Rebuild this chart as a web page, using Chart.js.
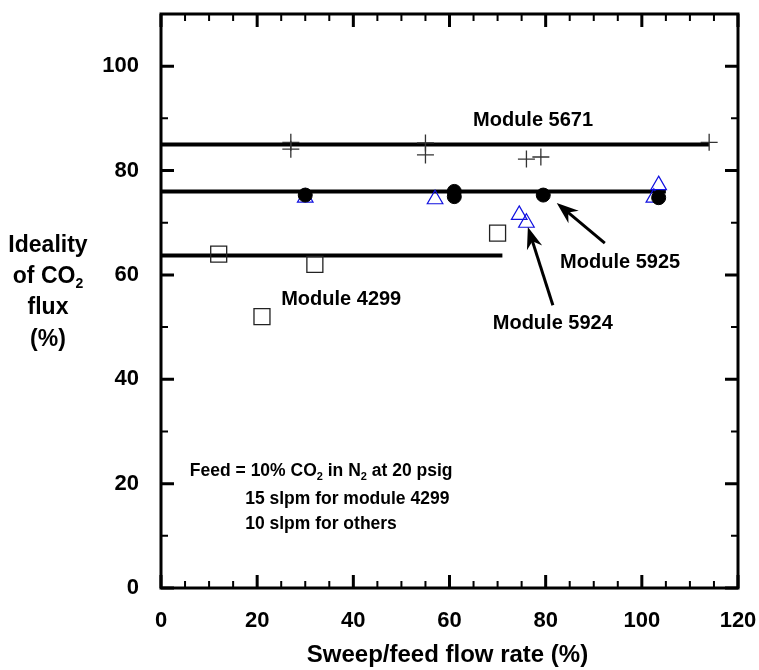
<!DOCTYPE html>
<html>
<head>
<meta charset="utf-8">
<script src="https://cdn.jsdelivr.net/npm/chart.js@4.4.1/dist/chart.umd.min.js"></script>
<style>
    html, body { margin: 0; padding: 0; background: #fff; }
    #wrap { width: 759px; height: 670px; }
</style>
</head>
<body>
<div id="wrap"><canvas id="idealityChart" width="759" height="670"></canvas></div>
<script>
// Sweep/feed flow rate (%) vs ideality of CO2 flux (%)
const m5671X = [27, 27, 55, 55, 76, 79, 114];
const m5671Y = [85.4, 84.1, 85.3, 83.0, 82.2, 82.6, 85.4];
const m5925X = [30, 61, 61, 79.5, 103.5];
const m5925Y = [75.3, 76.0, 75.0, 75.3, 74.8];
const m5924X = [30, 57, 74.5, 76, 102.5, 103.5];
const m5924Y = [74.8, 74.5, 71.5, 70.0, 74.8, 77.2];
const m4299X = [12, 21, 32, 70];
const m4299Y = [64, 52, 62, 68];

// horizontal average lines: 5671, 5925, 4299
const fitLevels = [85, 76, 63.7];
const fitEnds = [114, 105, 71];

const xMax = 120;
const yMax = 110;

const FONT = '"Liberation Sans", Arial, sans-serif';

function pts(xs, ys) {
    return xs.map((x, i) => ({ x: x, y: ys[i] }));
}

function fitLine(i) {
    return {
        type: 'line',
        data: [{ x: 0, y: fitLevels[i] }, { x: fitEnds[i], y: fitLevels[i] }],
        borderColor: '#000',
        borderWidth: 4,
        pointRadius: 0,
        order: 10
    };
}

// draws a string with subscript pieces, left aligned at x, middle at y
function drawRich(ctx, parts, x, y, size) {
    let cx = x;
    parts.forEach(p => {
        if (p.sub) {
            ctx.font = 'bold ' + Math.round(size * 0.62) + 'px ' + FONT;
            ctx.fillText(p.t, cx, y + size * 0.3);
        } else {
            ctx.font = 'bold ' + size + 'px ' + FONT;
            ctx.fillText(p.t, cx, y);
        }
        cx += ctx.measureText(p.t).width;
    });
    return cx - x;
}

function richWidth(ctx, parts, size) {
    let w = 0;
    parts.forEach(p => {
        ctx.font = 'bold ' + (p.sub ? Math.round(size * 0.62) : size) + 'px ' + FONT;
        w += ctx.measureText(p.t).width;
    });
    return w;
}

function arrow(ctx, x1, y1, x2, y2) {
    const ang = Math.atan2(y2 - y1, x2 - x1);
    const c = Math.cos(ang), s = Math.sin(ang);
    const head = 22;
    const bx = x2 - head * c;
    const by = y2 - head * s;
    ctx.lineWidth = 3;
    ctx.beginPath();
    ctx.moveTo(x1, y1);
    ctx.lineTo(x2 - 12 * c, y2 - 12 * s);
    ctx.stroke();
    ctx.beginPath();
    ctx.moveTo(x2, y2);
    ctx.lineTo(bx + 8 * s, by - 8 * c);
    ctx.lineTo(x2 - 15 * c, y2 - 15 * s);
    ctx.lineTo(bx - 8 * s, by + 8 * c);
    ctx.closePath();
    ctx.fill();
}

const framePlugin = {
    id: 'frameAndNotes',
    afterDatasetsDraw(chart) {
        const ctx = chart.ctx;
        const a = chart.chartArea;
        const xs = chart.scales.x;
        const ys = chart.scales.y;
        ctx.save();
        ctx.strokeStyle = '#000';
        ctx.fillStyle = '#000';

        // inward ticks on all four sides
        xs.ticks.forEach(t => {
            const px = xs.getPixelForValue(t.value);
            const major = t.value % 20 === 0;
            const len = major ? 13 : 7;
            ctx.lineWidth = major ? 3 : 2;
            ctx.beginPath();
            ctx.moveTo(px, a.bottom); ctx.lineTo(px, a.bottom - len);
            ctx.moveTo(px, a.top); ctx.lineTo(px, a.top + len);
            ctx.stroke();
        });
        ys.ticks.forEach(t => {
            const py = ys.getPixelForValue(t.value);
            const major = t.value % 20 === 0;
            const len = major ? 13 : 7;
            ctx.lineWidth = major ? 3 : 2;
            ctx.beginPath();
            ctx.moveTo(a.left, py); ctx.lineTo(a.left + len, py);
            ctx.moveTo(a.right, py); ctx.lineTo(a.right - len, py);
            ctx.stroke();
        });
        ctx.lineWidth = 3;
        ctx.strokeRect(a.left, a.top, a.right - a.left, a.bottom - a.top);

        // module labels
        ctx.textBaseline = 'middle';
        ctx.textAlign = 'left';
        ctx.font = 'bold 20px ' + FONT;
        const notes = [
            ['Module 5671', 64.9, 89.5],
            ['Module 5925', 83, 62.3],
            ['Module 5924', 69, 50.6],
            ['Module 4299', 25, 55.2]
        ];
        notes.forEach(n => {
            ctx.fillText(n[0], xs.getPixelForValue(n[1]), ys.getPixelForValue(n[2]));
        });

        // arrows to the 5925 and 5924 points
        arrow(ctx, xs.getPixelForValue(92.3), ys.getPixelForValue(66.1),
            xs.getPixelForValue(82.3), ys.getPixelForValue(73.8));
        arrow(ctx, xs.getPixelForValue(81.5), ys.getPixelForValue(54.2),
            xs.getPixelForValue(76.3), ys.getPixelForValue(69.2));

        // feed conditions
        const fx = xs.getPixelForValue(6.0);
        drawRich(ctx, [{ t: 'Feed = 10% CO' }, { t: '2', sub: true }, { t: ' in N' },
            { t: '2', sub: true }, { t: ' at 20 psig' }], fx, ys.getPixelForValue(22.3), 17.5);
        const fx2 = xs.getPixelForValue(17.5);
        drawRich(ctx, [{ t: '15 slpm for module 4299' }], fx2, ys.getPixelForValue(17.1), 17.5);
        drawRich(ctx, [{ t: '10 slpm for others' }], fx2, ys.getPixelForValue(12.3), 17.5);

        // axis titles
        ctx.textAlign = 'center';
        ctx.font = 'bold 24px ' + FONT;
        ctx.fillText('Sweep/feed flow rate (%)', (a.left + a.right) / 2 - 2, 655);
        ctx.font = 'bold 23px ' + FONT;
        const cx = 48;
        ctx.fillText('Ideality', cx, 246);
        ctx.textAlign = 'left';
        const co2 = [{ t: 'of CO' }, { t: '2', sub: true }];
        drawRich(ctx, co2, cx - richWidth(ctx, co2, 23) / 2, 277, 23);
        ctx.textAlign = 'center';
        ctx.font = 'bold 23px ' + FONT;
        ctx.fillText('flux', cx, 308);
        ctx.fillText('(%)', cx, 340);
        ctx.restore();
    }
};

const ctx = document.getElementById('idealityChart').getContext('2d');
const chart = new Chart(ctx, {
    type: 'scatter',
    data: {
        datasets: [
            {
                label: 'Module 5925',
                data: pts(m5925X, m5925Y),
                pointStyle: 'circle',
                pointRadius: 7,
                backgroundColor: '#000',
                borderColor: '#000',
                borderWidth: 1,
                order: 0
            },
            {
                label: 'Module 5924',
                data: pts(m5924X, m5924Y),
                pointStyle: 'triangle',
                pointRadius: 9,
                backgroundColor: 'rgba(0,0,0,0)',
                borderColor: '#1010e0',
                borderWidth: 1.2,
                order: 1
            },
            {
                label: 'Module 5671',
                data: pts(m5671X, m5671Y),
                pointStyle: 'cross',
                pointRadius: 8.5,
                borderColor: '#333',
                borderWidth: 1.3,
                order: 2
            },
            {
                label: 'Module 4299',
                data: pts(m4299X, m4299Y),
                pointStyle: 'rect',
                pointRadius: 11.3,
                backgroundColor: 'rgba(0,0,0,0)',
                borderColor: '#222',
                borderWidth: 1.3,
                order: 3
            },
            fitLine(0),
            fitLine(1),
            fitLine(2)
        ]
    },
    options: {
        responsive: false,
        animation: false,
        layout: {
            padding: { left: 0, top: 14, right: 21, bottom: 0 }
        },
        plugins: {
            legend: { display: false },
            tooltip: { enabled: false }
        },
        scales: {
            x: {
                type: 'linear',
                min: 0,
                max: xMax,
                grid: { display: false },
                border: { display: false },
                ticks: {
                    stepSize: 5,
                    autoSkip: false,
                    maxRotation: 0,
                    padding: 12,
                    color: '#000',
                    font: { family: FONT, size: 22, weight: 'bold' },
                    callback: v => (v % 20 === 0 ? v : '')
                },
                afterFit: s => {
                    s.height = 82;
                    s.paddingLeft = 0;
                    s.paddingRight = 0;
                }
            },
            y: {
                type: 'linear',
                min: 0,
                max: yMax,
                grid: { display: false },
                border: { display: false },
                ticks: {
                    stepSize: 10,
                    autoSkip: false,
                    padding: 14,
                    color: '#000',
                    font: { family: FONT, size: 22, weight: 'bold' },
                    callback: v => (v % 20 === 0 && v <= 100 ? v : '')
                },
                afterFit: s => {
                    s.width = 161;
                    s.paddingTop = 0;
                    s.paddingBottom = 0;
                }
            }
        }
    },
    plugins: [framePlugin]
});
</script>
</body>
</html>
